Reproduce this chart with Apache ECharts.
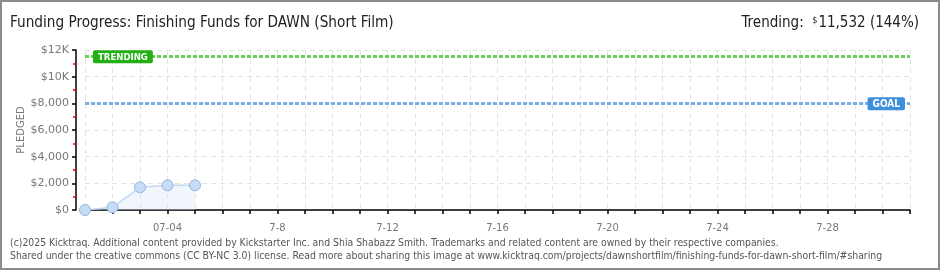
<!DOCTYPE html>
<html><head><meta charset="utf-8">
<script src="https://cdn.jsdelivr.net/npm/echarts@6/dist/echarts.min.js"></script>
<style>html,body{margin:0;padding:0;background:#fff}#c{width:940px;height:270px}</style>
</head><body><div id="c"></div>
<script>
const days = ["7-1","7-2","7-3","07-04","7-5","7-6","7-7","7-8","7-9","7-10","7-11","7-12","7-13","7-14","7-15","7-16","7-17","7-18","7-19","7-20","7-21","7-22","7-23","7-24","7-25","7-26","7-27","7-28","7-29","7-30","7-31"];
const pledged = [0, 200, 1700, 1850, 1850];
const trending = 11532;
const goal = 8000;
const yTicks = [0, 2000, 4000, 6000, 8000, 10000, 12000];
const titleText = "Funding Progress: Finishing Funds for DAWN (Short Film)";
const trendingText = "11,532 (144%)";
const footer1 = "(c)2025 Kicktraq. Additional content provided by Kickstarter Inc. and Shia Shabazz Smith. Trademarks and related content are owned by their respective companies.";
const footer2 = "Shared under the creative commons (CC BY-NC 3.0) license. Read more about sharing this image at www.kicktraq.com/projects/dawnshortfilm/finishing-funds-for-dawn-short-film/#sharing";

const chart = echarts.init(document.getElementById('c'), null, {renderer:'canvas'});
const axisFont = 'DejaVu Sans';
const condFont = 'DejaVu Sans Condensed';
chart.setOption({
  animation:false,
  backgroundColor:'#fff',
  title:[
    {text:titleText,left:5,top:11,textStyle:{fontFamily:condFont,fontSize:15.2,fontWeight:'normal',color:'#222'}},
    {text:'{l|Trending:  }{s|$}{v|'+trendingText+'}',right:16,top:11,textStyle:{fontWeight:'normal',rich:{
      l:{fontFamily:condFont,fontSize:15,fontWeight:'normal',color:'#222'},
      s:{fontFamily:condFont,fontSize:9,fontWeight:'normal',color:'#222',verticalAlign:'top',padding:[0,1,6,0]},
      v:{fontFamily:condFont,fontSize:15,fontWeight:'normal',color:'#222'}}}},
    {text:footer1+'\n'+footer2,left:5,top:232,textStyle:{fontFamily:condFont,fontSize:10.35,fontWeight:'normal',color:'#555',lineHeight:13}}
  ],
  graphic:[{type:'rect',shape:{x:1,y:1,width:938,height:268},style:{fill:'none',stroke:'#8c8c8c',lineWidth:2},silent:true}],
  grid:{left:85,right:30,top:50,bottom:60},
  xAxis:{type:'category',data:days,boundaryGap:false,offset:10,
    axisLine:{lineStyle:{color:'#000',width:1.5}},
    axisTick:{show:true,interval:0,length:4,lineStyle:{color:'#000',width:1.5}},
    axisLabel:{interval:(i)=>i%4===3,color:'#777',fontFamily:axisFont,fontSize:10,margin:3},
    splitLine:{show:true,interval:0,lineStyle:{color:'#e3e3e3',type:[5,4],width:1}}
  },
  yAxis:{type:'value',min:0,max:12000,interval:2000,offset:9,
    name:'PLEDGED',nameLocation:'middle',nameRotate:90,nameGap:50,nameMoveOverlap:false,
    nameTextStyle:{color:'#777',fontFamily:axisFont,fontSize:10},
    axisLine:{show:true,lineStyle:{color:'#000',width:1.5}},
    axisTick:{show:true,length:4,lineStyle:{color:'#000',width:1.5}},
    minorTick:{show:true,splitNumber:2,length:3,lineStyle:{color:'#e00',width:1.5}},
    axisLabel:{color:'#777',fontFamily:axisFont,fontSize:11,margin:7,
      formatter:(v)=> v>=10000 ? '$'+(v/1000)+'K' : '$'+v.toLocaleString('en-US')},
    splitLine:{show:true,lineStyle:{color:'#e3e3e3',type:[5,4],width:1}}
  },
  series:[{
    type:'line',data:pledged,symbol:'circle',symbolSize:11,
    lineStyle:{color:'#c3d8f2',width:1.5},
    itemStyle:{color:'#c6dcf6',borderColor:'#93b5dc',borderWidth:1},
    areaStyle:{color:'rgba(214,230,248,0.5)'},
    markLine:{symbol:'none',silent:true,
      data:[
        {yAxis:trending,lineStyle:{color:'#6ccf5c',width:3,type:[4,2]},
         label:{show:true,formatter:'TRENDING',position:'insideStartTop',distance:[8,-7],
           backgroundColor:'#22b014',color:'#fff',fontFamily:condFont,fontSize:9.5,fontWeight:'bold',padding:[2,5,1,5],borderRadius:2}},
        {yAxis:goal,lineStyle:{color:'#79aee6',width:3,type:[4,2]},
         label:{show:true,formatter:'GOAL',position:'insideEndTop',distance:[5,-7],
           backgroundColor:'#3d8fdb',color:'#fff',fontFamily:condFont,fontSize:10,fontWeight:'bold',padding:[2,5,1,5],borderRadius:2}}
      ]}
  }]
});
</script></body></html>
